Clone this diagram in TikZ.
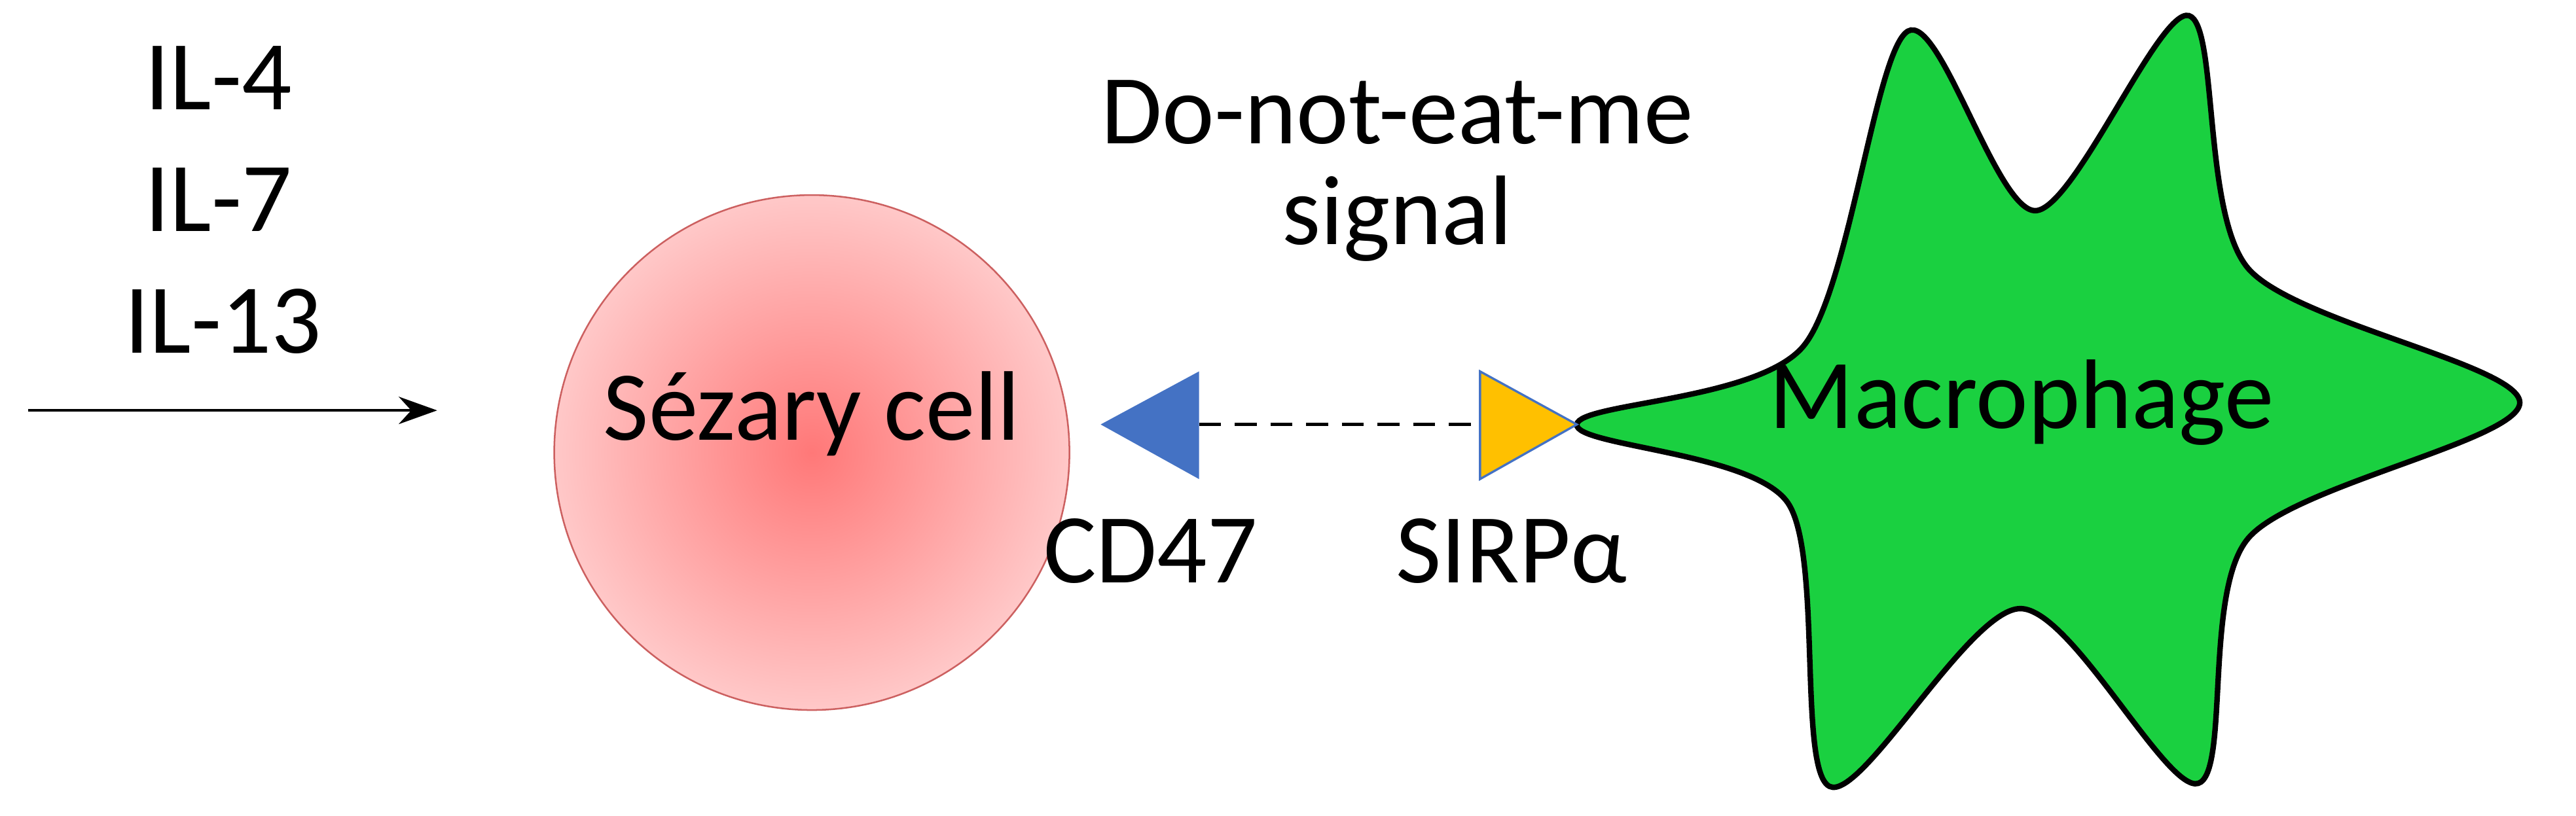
\documentclass[tikz,border=0pt]{standalone}
\usepackage{fontspec}
\setmainfont{Carlito}
\usetikzlibrary{calc,arrows.meta}
\definecolor{cellpink}{RGB}{255,200,200}
\definecolor{cellred}{RGB}{255,120,120}
\definecolor{cdblue}{RGB}{68,114,196}
\definecolor{sirpyellow}{RGB}{255,192,0}
\definecolor{macgreen}{RGB}{26,208,64}
\tikzset{
  lbl/.style={font=\fontsize{18}{22}\selectfont, inner sep=0pt},
  rec/.style={draw=cdblue, line width=0.4pt},
}
\begin{document}
\begin{tikzpicture}[x=0.01cm,y=-0.01cm]
\useasboundingbox (0,0) rectangle (1650,522.5);
\coordinate (in0) at (18,263);
\coordinate (in1) at (280,263);
\coordinate (c) at (520,290);
\coordinate (cd) at (768,272);
\coordinate (sp) at (948,272);

\node[lbl] (il4) at (140,50) {IL-4};
\node[lbl] (il7) at (140,128) {IL-7};
\node[lbl] (il13) at (143,206) {IL-13};
\draw[-{Stealth[length=7pt,width=5pt]}, line width=0.5pt] (in0) -- (in1);

\shade[inner color=cellred, outer color=cellpink] (c) circle (165);
\draw[cellred!80!black, line width=0.3pt] (c) circle (165);
\node[lbl] (sez) at (520,265) {Sézary cell};

\draw[fill=macgreen, draw=black, line width=1pt]
  plot[smooth cycle, tension=0.5] coordinates {(1010,272) (1155,222) (1222,20) (1304,135) (1402,10) (1440,172) (1614,258) (1440,345) (1408,502) (1294,390) (1172,504) (1145,322)};
\node[lbl] (mac) at (1295,258) {Macrophage};

\fill[cdblue] (705,272) -- (768,238) -- (768,307) -- cycle;
\fill[sirpyellow, rec] (948,238) -- (1010,272) -- (948,307) -- cycle;
\draw[dashed, line width=0.6pt, dash pattern=on 4pt off 2.5pt] (cd) -- (sp);

\node[lbl] (cd47) at (737,353) {CD47};
\node[lbl] (sirp) at (968,353) {SIRPα};
\node[lbl] (dont) at (895,72) {Do-not-eat-me};
\node[lbl] (sig) at (895,140) {signal};
\end{tikzpicture}
\end{document}
